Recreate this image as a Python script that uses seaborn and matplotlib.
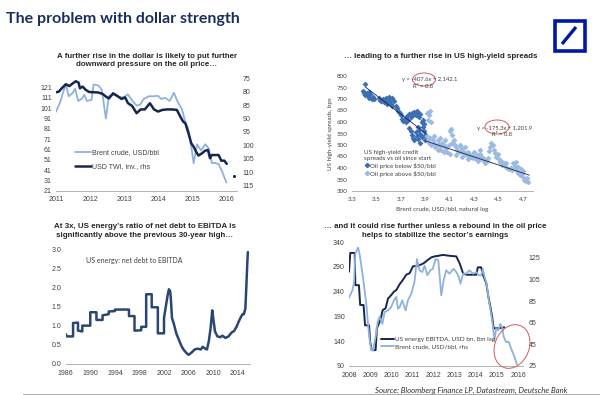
import matplotlib
matplotlib.use("Agg")
import matplotlib.pyplot as plt
from matplotlib.patches import Ellipse, Rectangle
from matplotlib.lines import Line2D
import seaborn as sns

# ---- data ----

# panel 1: Brent (lhs) vs USD trade weighted index, inverted (rhs)
brent1_x = [2011.0, 2011.12, 2011.24, 2011.3, 2011.37, 2011.49, 2011.56, 2011.65, 2011.75, 2011.83, 2011.9,
            2012.04, 2012.1, 2012.24, 2012.34, 2012.46, 2012.55, 2012.7, 2012.84, 2012.99, 2013.1, 2013.26,
            2013.36, 2013.46, 2013.57, 2013.72, 2013.86, 2013.98, 2014.08, 2014.2, 2014.33, 2014.45, 2014.57,
            2014.69, 2014.79, 2014.86, 2014.96, 2015.03, 2015.13, 2015.25, 2015.37, 2015.47, 2015.57, 2015.66,
            2015.76, 2015.86, 2015.99]
brent1_y = [97.6, 106.7, 119.7, 123, 112.6, 115.8, 120, 108, 110, 113.9, 108, 109, 124, 123, 119, 91, 113,
            114, 111.6, 111.6, 114.5, 107.4, 103.5, 104.4, 110, 112.6, 112.6, 113, 110, 111, 108, 116, 106.7,
            100, 87, 82, 64, 47.6, 66, 60, 66, 62, 47.6, 48, 46.6, 40, 28.8]
twi_x = [2011.0, 2011.08, 2011.17, 2011.29, 2011.39, 2011.49, 2011.58, 2011.66, 2011.7, 2011.78, 2011.87,
         2011.97, 2012.12, 2012.24, 2012.36, 2012.46, 2012.55, 2012.67, 2012.8, 2012.92, 2013.02, 2013.11,
         2013.23, 2013.36, 2013.48, 2013.6, 2013.75, 2013.87, 2013.99, 2014.11, 2014.25, 2014.4, 2014.54,
         2014.64, 2014.72, 2014.79, 2014.88, 2014.96, 2015.03, 2015.1, 2015.17, 2015.27, 2015.37, 2015.45,
         2015.51, 2015.56, 2015.66, 2015.76, 2015.84, 2015.93, 2016.0]
twi_y = [80.2, 80.0, 78.7, 77.2, 77.9, 76.9, 76.1, 76.6, 78.7, 78.1, 79.3, 80.1, 80.2, 80.3, 80.8, 81.8,
         82.5, 80.6, 81.6, 82.7, 82.1, 84.3, 85.3, 88.0, 86.6, 86.6, 84.3, 86.6, 87.4, 86.8, 86.6, 86.6,
         86.8, 89.3, 91.1, 91.8, 95.5, 99.2, 100.5, 102.3, 103.8, 103.0, 102.0, 101.7, 104.8, 103.6, 103.6,
         103.6, 105.7, 105.7, 106.9]
twi_star_x = [2016.2]
twi_star_y = [111.5]
p1_xticks = [2011, 2012, 2013, 2014, 2015, 2016]
p1_lticks = [21, 31, 41, 51, 61, 71, 81, 91, 101, 111, 121]
p1_rticks = [75, 80, 85, 90, 95, 100, 105, 110, 115]

# panel 2: HY spreads vs log oil price
below_x = [3.41, 3.39, 3.40, 3.41, 3.42, 3.43, 3.44, 3.45, 3.46, 3.47, 3.44, 3.48,
           3.52, 3.53, 3.54, 3.55, 3.56, 3.57, 3.58, 3.59, 3.60, 3.60, 3.61, 3.62, 3.62, 3.63, 3.64, 3.63,
           3.66, 3.67, 3.68, 3.69, 3.70,
           3.71, 3.72, 3.73, 3.74, 3.75, 3.76, 3.77, 3.78, 3.79, 3.80, 3.81, 3.82, 3.83, 3.84, 3.85, 3.86,
           3.87, 3.88, 3.89,
           3.77, 3.78, 3.79, 3.80, 3.81, 3.82, 3.83, 3.84, 3.85, 3.86, 3.87, 3.88, 3.89, 3.90, 3.90, 3.86,
           3.84, 3.88]
below_y = [767, 735, 725, 718, 728, 712, 705, 720, 700, 710, 732, 698,
           705, 695, 690, 700, 688, 695, 705, 680, 710, 690, 700, 695, 680, 705, 690, 670,
           668, 660, 650, 640, 630,
           612, 605, 615, 598, 625, 610, 635, 620, 640, 632, 645, 630, 650, 640, 620, 635,
           600, 610, 590,
           575, 560, 545, 530, 520, 555, 540, 525, 565, 550, 535, 580, 560, 545, 520, 510,
           580, 595]
above_x = [3.91, 3.93, 3.92, 3.94, 3.95,
           3.91, 3.92, 3.93, 3.94, 3.95, 3.96, 3.97, 3.98, 3.99, 4.00, 4.01, 4.02, 4.03, 4.04, 4.05, 4.06,
           4.07, 4.08, 4.09, 4.10, 4.11, 4.12, 4.13, 4.14, 4.15, 4.16, 4.17, 4.18, 4.19, 4.20, 4.21, 4.22,
           4.23, 4.24, 4.25, 4.26, 4.27, 4.28, 4.29, 4.30, 4.31, 4.32, 4.34, 4.35, 4.36, 4.37, 4.38, 4.40,
           4.41, 4.42, 4.43, 4.44, 4.45, 4.46, 4.47, 4.48, 4.49, 4.50, 4.51, 4.52, 4.53, 4.54, 4.55, 4.56,
           4.57, 4.58, 4.60, 4.61, 4.62, 4.63, 4.64, 4.65, 4.66, 4.67, 4.68, 4.69, 4.70, 4.71, 4.72, 4.73,
           4.74, 4.66, 4.64, 4.70,
           4.02, 4.06, 4.12, 4.18, 4.22, 4.30, 4.35, 3.97, 4.00, 4.05, 4.10, 4.15, 4.20, 4.25, 4.33, 4.39]
above_y = [640, 630, 610, 650, 600,
           540, 520, 510, 530, 500, 520, 510, 490, 500, 520, 505, 495, 480, 510, 500, 490,
           485, 470, 500, 560, 570, 545, 520, 500, 490, 480, 475, 470, 490, 480, 470, 460,
           465, 455, 470, 460, 450, 455, 445, 450, 440, 455, 445, 460, 450, 435, 440, 430,
           445, 475, 490, 510, 500, 480, 465, 450, 460, 440, 425, 430, 415, 420, 410, 420,
           400, 395, 400, 390, 420, 410, 400, 385, 380, 370, 395, 375, 360, 350, 345, 355,
           340, 405, 425, 385,
           530, 520, 510, 500, 490, 470, 480, 540, 480, 470, 460, 455, 450, 440, 430, 420]
trend_low_x = [3.41, 3.91]
trend_low_y = [752, 548]
trend_high_x = [3.90, 4.75]
trend_high_y = [518, 369]
p2_xticks = [3.3, 3.5, 3.7, 3.9, 4.1, 4.3, 4.5, 4.7]
p2_yticks = [300, 350, 400, 450, 500, 550, 600, 650, 700, 750, 800]

# panel 3: US energy net debt / EBITDA
debt_x = [1986.0, 1986.2, 1987.2, 1987.2, 1988.0, 1988.0, 1988.7, 1988.7, 1990.0, 1990.0, 1991.0, 1991.0,
          1992.0, 1992.0, 1993.0, 1993.0, 1994.0, 1994.0, 1996.3, 1996.3, 1997.2, 1997.2, 1998.3, 1998.3,
          1999.1, 1999.1, 2000.0, 2000.0, 2001.0, 2001.0, 2002.0, 2002.0, 2002.3, 2002.6, 2002.8, 2003.0,
          2003.1, 2003.3, 2003.6, 2004.0, 2004.5, 2004.9, 2005.3, 2005.7, 2006.0, 2006.5, 2007.0, 2007.5,
          2008.0, 2008.3, 2008.7, 2009.0, 2009.3, 2009.6, 2009.85, 2010.05, 2010.3, 2010.7, 2011.2, 2011.5,
          2012.0, 2012.5, 2013.0, 2013.4, 2013.8, 2014.2, 2014.5, 2014.8, 2015.0, 2015.25, 2015.45, 2015.55,
          2015.65]
debt_y = [0.78, 0.72, 0.72, 1.07, 1.08, 0.87, 0.85, 1.0, 1.0, 1.35, 1.35, 1.15,
          1.15, 1.27, 1.30, 1.37, 1.38, 1.42, 1.42, 1.25, 1.25, 0.87, 0.88, 0.97,
          0.97, 1.82, 1.82, 1.48, 1.48, 0.80, 0.80, 1.20, 1.50, 1.80, 1.95, 1.90,
          1.75, 1.20, 1.05, 0.80, 0.60, 0.45, 0.35, 0.28, 0.24, 0.30, 0.38, 0.40,
          0.38, 0.45, 0.40, 0.38, 0.60, 0.95, 1.40, 1.15, 0.85, 0.72, 0.70, 0.74,
          0.68, 0.72, 0.82, 0.86, 0.97, 1.12, 1.22, 1.30, 1.30, 1.45, 2.20, 2.60,
          2.92]
p3_xticks = [1986, 1990, 1994, 1998, 2002, 2006, 2010, 2014]
p3_yticks = [0.0, 0.5, 1.0, 1.5, 2.0, 2.5, 3.0]

# panel 4: US energy EBITDA (lhs, 8m lag) vs Brent (rhs)
ebitda_x = [2008.0, 2008.06, 2008.27, 2008.3, 2008.47, 2008.53, 2008.69, 2008.76, 2008.95, 2009.0, 2009.08,
            2009.26, 2009.32, 2009.48, 2009.6, 2009.73, 2009.85, 2010.0, 2010.13, 2010.24, 2010.4, 2010.56,
            2010.71, 2010.87, 2011.03, 2011.22, 2011.38, 2011.53, 2011.74, 2011.9, 2012.05, 2012.2, 2012.45,
            2012.8, 2013.08, 2013.24, 2013.4, 2013.55, 2013.87, 2014.03, 2014.1, 2014.26, 2014.34, 2014.5,
            2014.6, 2014.69, 2014.78, 2014.85, 2015.1, 2015.35]
ebitda_y = [280, 318, 318, 253, 253, 213, 213, 172, 172, 139, 122, 122, 166, 182, 203, 206, 226, 233, 240,
            243, 255, 264, 274, 277, 291, 292, 294, 297, 304, 309, 311, 312, 314, 312, 311, 297, 277, 274,
            274, 274, 289, 289, 274, 257, 230, 210, 189, 166, 166, 168]
brent4_x = [2008.0, 2008.16, 2008.24, 2008.3, 2008.43, 2008.5, 2008.66, 2008.82, 2008.9, 2008.98, 2009.06,
            2009.14, 2009.26, 2009.37, 2009.45, 2009.58, 2009.69, 2009.85, 2010.0, 2010.13, 2010.24, 2010.32,
            2010.4, 2010.52, 2010.68, 2010.79, 2010.95, 2011.1, 2011.22, 2011.34, 2011.47, 2011.58, 2011.71,
            2011.85, 2011.97, 2012.1, 2012.23, 2012.37, 2012.48, 2012.6, 2012.76, 2012.95, 2013.08, 2013.2,
            2013.28, 2013.4, 2013.55, 2013.7, 2013.87, 2014.03, 2014.15, 2014.26, 2014.34, 2014.42, 2014.5,
            2014.58, 2014.66, 2014.78, 2014.89, 2014.97, 2015.08, 2015.16, 2015.25, 2015.33, 2015.44,
            2015.57, 2015.68, 2015.84, 2015.95]
brent4_y = [88.3, 95, 102.8, 129, 134.6, 129, 107.4, 82.7, 64, 48.8, 39.5, 39.5, 52, 67.3, 70.4, 64, 75,
            76.5, 79.6, 85.8, 89, 78, 79.6, 85.8, 76.5, 85.8, 92, 102.8, 124, 113.6, 112, 118, 109, 113.6,
            115, 124, 123, 90.4, 104, 113.6, 110.5, 115, 112, 107.4, 101.2, 110.5, 110.5, 113.6, 110.5, 112,
            109, 109, 115, 107.4, 102.8, 92, 81.2, 67.3, 48.8, 59.6, 58, 64, 61, 51.8, 47.2, 47.2, 41, 33.3,
            26.5]
p4_xticks = [2008, 2009, 2010, 2011, 2012, 2013, 2014, 2015, 2016]
p4_lticks = [90, 140, 190, 240, 290, 340]
p4_rticks = [25, 45, 65, 85, 105, 125]

# ---- style ----
NAVY = "#15264f"
LIGHT = "#8fb1dc"
DEBT = "#2c4674"
PT_DARK = "#3c6fb4"
PT_LIGHT = "#9dbbe0"
TXT = "#404040"
TITLE = "#1b2f5e"
DB_BLUE = "#0018a8"
RED = "#d45a5a"

sns.set_theme(style="white")
plt.rcParams["font.family"] = ["Liberation Sans", "DejaVu Sans"]
CAL = ["Lato", "DejaVu Sans"]

W, H = 600, 395
fig = plt.figure(figsize=(6, 3.95), dpi=100)


def px_axes(x0, y0, x1, y1):
    return fig.add_axes([x0 / W, 1 - y1 / H, (x1 - x0) / W, (y1 - y0) / H])


def fx(px):
    return px / W


def fy(py):
    return 1 - py / H


def style(ax, fs=5):
    for s in ["left", "right", "top"]:
        ax.spines[s].set_visible(False)
    ax.spines["bottom"].set_color("#a6a6a6")
    ax.spines["bottom"].set_linewidth(0.6)
    ax.tick_params(axis="x", length=2, width=0.5, color="#a6a6a6", labelsize=fs, labelcolor=TXT, pad=2)
    ax.tick_params(axis="y", length=0, labelsize=fs, labelcolor=TXT, pad=3)
    ax.set_xlabel("")
    ax.set_ylabel("")


def style_twin(ax, fs=5):
    for s in ax.spines.values():
        s.set_visible(False)
    ax.tick_params(axis="y", length=0, labelsize=fs, labelcolor=TXT, pad=4)
    ax.set_ylabel("")


# ---- panel 1 ----
ax1 = px_axes(56, 78.3, 237, 190.7)
sns.lineplot(x=brent1_x, y=brent1_y, color=LIGHT, lw=1.3, ax=ax1, label="Brent crude, USD/bbl", legend=False)
ax1.set_xlim(2011, 2016.3)
ax1.set_ylim(21, 130)
ax1.set_xticks(p1_xticks)
ax1.set_yticks(p1_lticks)
style(ax1)
ax1b = ax1.twinx()
sns.lineplot(x=twi_x, y=twi_y, color=NAVY, lw=1.8, ax=ax1b, label="USD TWI, inv., rhs", legend=False)
sns.scatterplot(x=twi_star_x, y=twi_star_y, color=NAVY, s=5, marker="o", linewidth=0, ax=ax1b)
ax1b.set_ylim(116.9, 75)
ax1b.set_yticks(p1_rticks)
style_twin(ax1b)
ax1b.legend(handles=[ax1.get_lines()[0], ax1b.get_lines()[0]], loc="upper left",
            bbox_to_anchor=(fx(75), fy(149)), bbox_transform=fig.transFigure, frameon=False,
            fontsize=5, handlelength=2.3, handletextpad=0.2, labelspacing=1.0, borderpad=0, borderaxespad=0,
            labelcolor=TXT)
fig.text(fx(147), fy(60.5), "A further rise in the dollar is likely to put further\n"
         "downward pressure on the oil price\u2026", ha="center", va="center", fontsize=5.7,
         fontweight="bold", color="#262626", linespacing=1.35)

# ---- panel 2 ----
ax2 = px_axes(352, 76, 533, 191)
sns.scatterplot(x=below_x, y=below_y, marker="D", s=9, color=PT_DARK, linewidth=0, ax=ax2)
sns.scatterplot(x=above_x, y=above_y, marker="D", s=9, color=PT_LIGHT, linewidth=0, ax=ax2)
sns.lineplot(x=trend_low_x, y=trend_low_y, color=NAVY, lw=0.6, ax=ax2)
sns.lineplot(x=trend_high_x, y=trend_high_y, color=NAVY, lw=0.6, ax=ax2)
ax2.set_xlim(3.3, 4.78)
ax2.set_ylim(300, 800)
ax2.set_xticks(p2_xticks)
ax2.set_xticks([3.4, 3.6, 3.8, 4.0, 4.2, 4.4, 4.6], minor=True)
ax2.set_yticks(p2_yticks)
style(ax2, fs=4.5)
ax2.tick_params(axis="x", which="minor", length=2, width=0.5, color="#a6a6a6")
for lab in ax2.get_xticklabels() + ax2.get_yticklabels():
    lab.set_family(CAL)
ax2.set_xlabel("Brent crude, USD/bbl, natural log", fontsize=4.5, color=TXT, family=CAL, labelpad=4)
ax2.set_ylabel("US high-yield spreads, bps", fontsize=4.5, color=TXT, family=CAL, labelpad=3)
h_below = Line2D([], [], marker="D", ls="", color=PT_DARK, markersize=2.2)
h_above = Line2D([], [], marker="D", ls="", color=PT_LIGHT, markersize=2.2)
leg2 = ax2.legend(handles=[h_below, h_above], labels=["Oil price below $50/bbl", "Oil price above $50/bbl"],
                  title="US high-yield credit\nspreads vs oil since start", loc="upper left",
                  bbox_to_anchor=(fx(364), fy(150)), bbox_transform=fig.transFigure, frameon=False,
                  fontsize=4.5, title_fontsize=4.5, handlelength=0.8, handletextpad=0.2, labelspacing=0.3,
                  borderpad=0, borderaxespad=0, prop={"family": CAL, "size": 4.5})
leg2._legend_box.align = "left"
leg2.get_title().set_family(CAL)
leg2.get_title().set_color(TXT)
for t in leg2.get_texts():
    t.set_color(TXT)
fig.text(fx(402), fy(80), "y = -407.6x + 2,142.1", fontsize=4.2, family=CAL, color=TXT, va="center")
fig.text(fx(413), fy(86), "R\u00b2 = 0.8", fontsize=4.2, family=CAL, color=TXT, va="center")
fig.text(fx(477), fy(128.5), "y = -175.3x + 1,201.9", fontsize=4.2, family=CAL, color=TXT, va="center")
fig.text(fx(492), fy(135), "R\u00b2 = 0.8", fontsize=4.2, family=CAL, color=TXT, va="center")
fig.add_artist(Ellipse((fx(424), fy(79.5)), 23 / W, 13 / H, transform=fig.transFigure,
                       fill=False, edgecolor=RED, lw=0.7))
fig.add_artist(Ellipse((fx(497), fy(127)), 24 / W, 14 / H, transform=fig.transFigure,
                       fill=False, edgecolor=RED, lw=0.7))
fig.text(fx(441), fy(57), "\u2026 leading to a further rise in US high-yield spreads", ha="center",
         va="center", fontsize=5.7, fontweight="bold", color="#262626")

# ---- panel 3 ----
ax3 = px_axes(65.7, 249, 250, 364)
sns.lineplot(x=debt_x, y=debt_y, color=DEBT, lw=1.8, ax=ax3, estimator=None, sort=False)
ax3.set_xlim(1986, 2016)
ax3.set_ylim(0, 3.0)
ax3.set_xticks(p3_xticks)
ax3.set_xticks([1988, 1992, 1996, 2000, 2004, 2008, 2012, 2016], minor=True)
ax3.set_yticks(p3_yticks)
ax3.set_yticklabels([f"{v:.1f}" for v in p3_yticks])
style(ax3)
ax3.tick_params(axis="x", which="minor", length=2, width=0.5, color="#a6a6a6")
fig.text(fx(86), fy(260), "US energy: net debt to EBITDA", fontsize=5, family=CAL, color=TXT, va="center")
fig.text(fx(145), fy(231), "At 3x, US energy\u2019s ratio of net debt to EBITDA is\n"
         "significantly above the previous 30-year high\u2026", ha="center", va="center", fontsize=5.7,
         fontweight="bold", color="#262626", linespacing=1.35)

# ---- panel 4 ----
ax4 = px_axes(349, 242, 523, 366)
sns.lineplot(x=ebitda_x, y=ebitda_y, color=NAVY, lw=1.4, ax=ax4, label="US energy EBITDA, USD bn, 8m lag",
             legend=False)
ax4.set_xlim(2008, 2016.24)
ax4.set_ylim(90, 340)
ax4.set_xticks(p4_xticks)
ax4.set_yticks(p4_lticks)
style(ax4)
ax4b = ax4.twinx()
sns.lineplot(x=brent4_x, y=brent4_y, color=LIGHT, lw=1.3, ax=ax4b, label="Brent crude, USD/bbl, rhs",
             legend=False)
ax4b.set_ylim(25, 139.8)
ax4b.set_yticks(p4_rticks)
style_twin(ax4b)
ax4b.legend(handles=[ax4.get_lines()[0], ax4b.get_lines()[0]], loc="upper left",
            bbox_to_anchor=(fx(381), fy(337)), bbox_transform=fig.transFigure, frameon=False,
            handlelength=2.0, handletextpad=0.2, labelspacing=0.25, borderpad=0, borderaxespad=0,
            labelcolor=TXT, prop={"family": CAL, "size": 4.6})
fig.add_artist(Ellipse((fx(512), fy(346.5)), 35 / W, 44 / H, angle=-8, transform=fig.transFigure,
                       fill=False, edgecolor=RED, lw=0.7))
fig.text(fx(435), fy(231), "\u2026 and it could rise further unless a rebound in the oil price\n"
         "helps to stabilize the sector\u2019s earnings", ha="center", va="center", fontsize=5.7,
         fontweight="bold", color="#262626", linespacing=1.35)

# ---- header, logo, source ----
fig.text(fx(6), fy(23), "The problem with dollar strength", fontsize=11.5, fontweight="bold",
         color=TITLE, family=CAL, va="baseline")
fig.add_artist(Rectangle((fx(554.5), fy(50.5)), 30 / W, 30 / H, transform=fig.transFigure,
                         fill=False, edgecolor=DB_BLUE, lw=2.6))
fig.add_artist(Line2D([fx(562), fx(576)], [fy(44), fy(27)], transform=fig.transFigure,
                      color=DB_BLUE, lw=2.4, solid_capstyle="butt"))
fig.text(fx(567), fy(390), "Source: Bloomberg Finance LP, Datastream, Deutsche Bank", ha="right",
         va="center", fontsize=5.6, style="italic", family=CAL, color="#303030")
fig.add_artist(Line2D([fx(23), fx(600)], [fy(393.5), fy(393.5)], transform=fig.transFigure,
                      color="#b0b0b0", lw=0.8))

fig.savefig("out.png", dpi=100)
